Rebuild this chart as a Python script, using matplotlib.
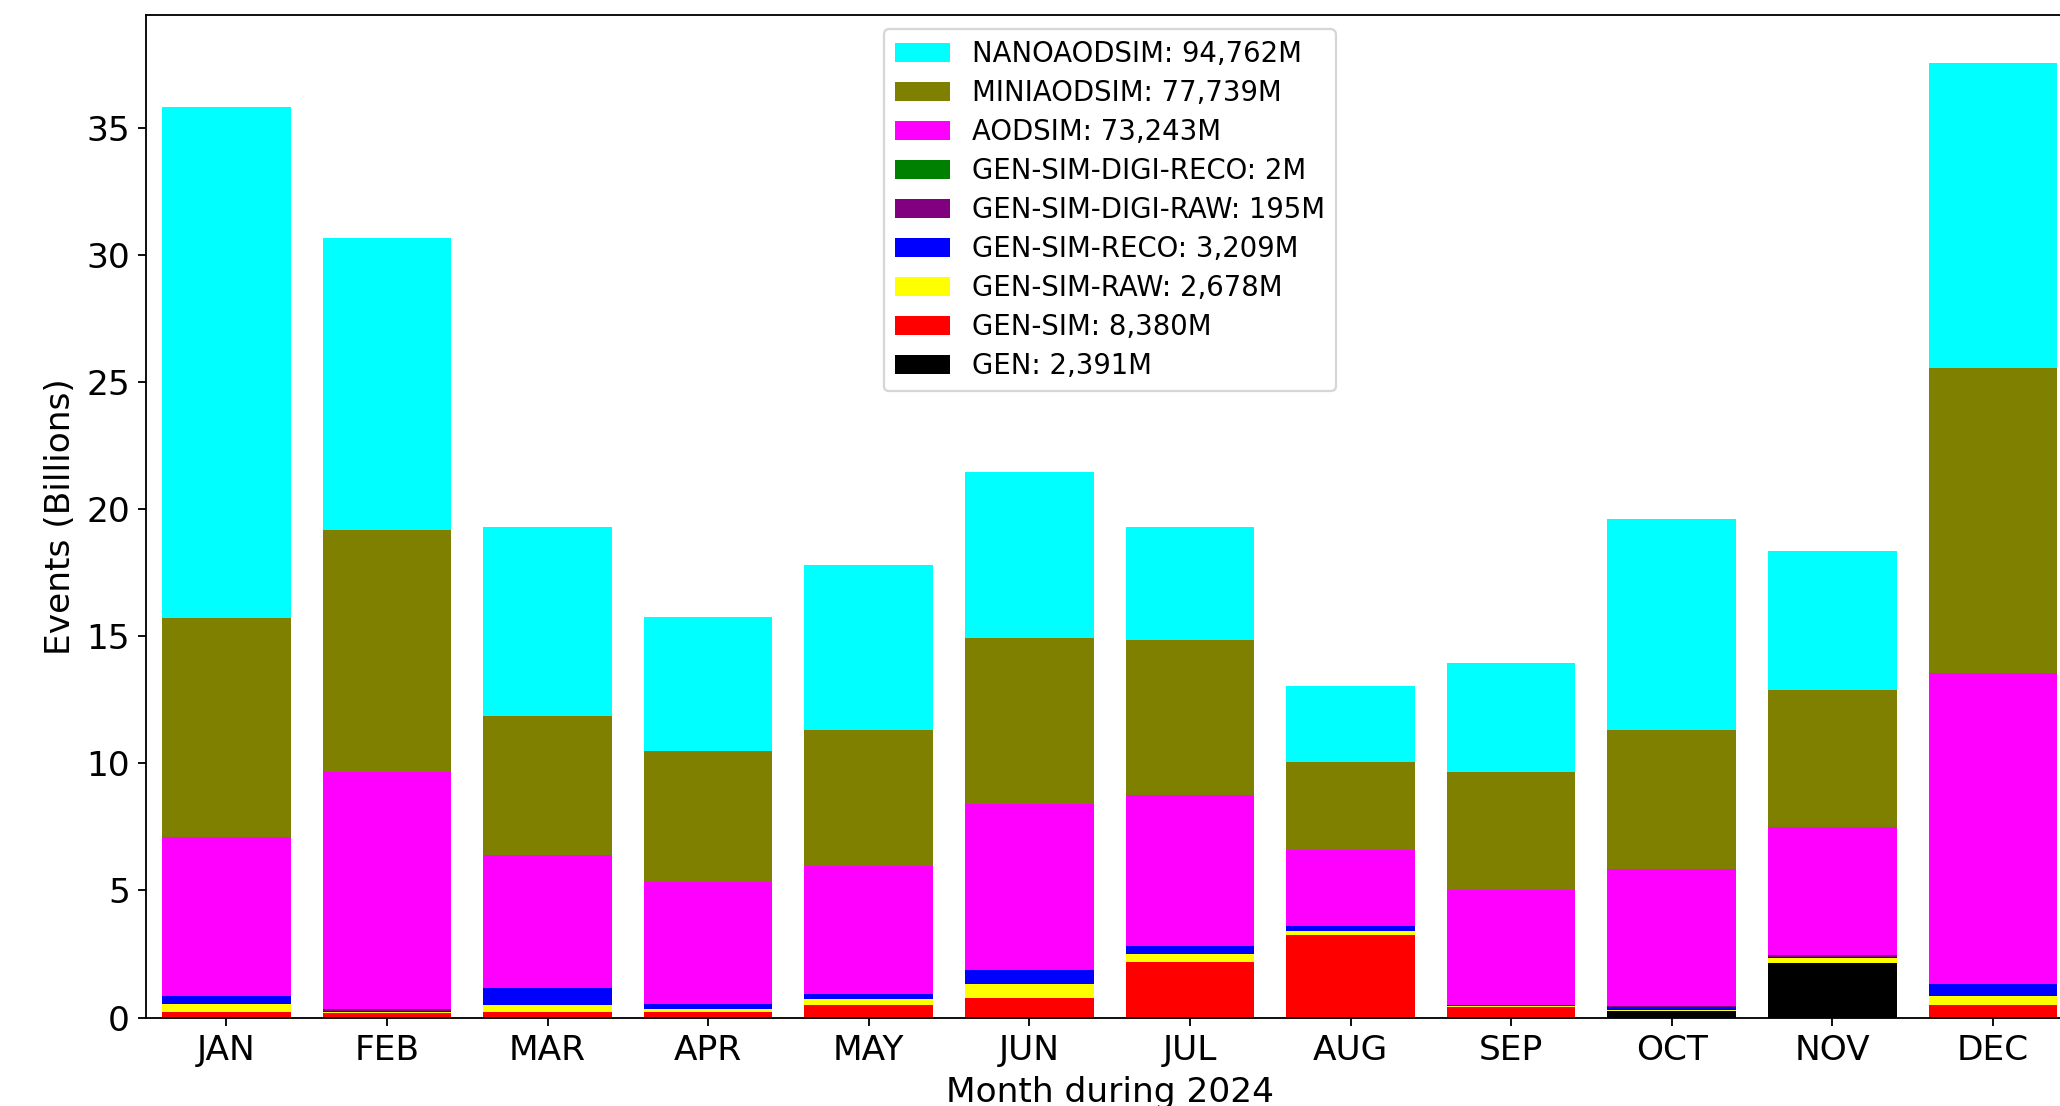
import matplotlib
matplotlib.use("Agg")
import matplotlib.pyplot as plt
import numpy as np

# 每月各数据层级的事件数 (单位: 百万)
months = ["JAN", "FEB", "MAR", "APR", "MAY", "JUN",
          "JUL", "AUG", "SEP", "OCT", "NOV", "DEC"]

gen = [0, 0, 0, 0, 0, 0, 0, 0, 0, 250, 2141, 0]
gen_sim = [200, 170, 200, 200, 500, 780, 2200, 3230, 400, 20, 0, 480]
gen_sim_raw = [350, 40, 280, 120, 240, 528, 310, 180, 50, 10, 190, 380]
gen_sim_reco = [310, 40, 700, 200, 190, 570, 320, 190, 60, 130, 40, 459]
gen_sim_digi_raw = [0, 80, 0, 0, 0, 0, 0, 0, 0, 30, 85, 0]
gen_sim_digi_reco = [0, 0, 0, 0, 0, 0, 0, 0, 0, 2, 0, 0]
aodsim = [6240, 9310, 5220, 4810, 5020, 6540, 5910, 3000, 4510, 5400, 5050, 12233]
miniaodsim = [8615, 9544, 5480, 5170, 5370, 6510, 6100, 3460, 4650, 5480, 5370, 11990]
nanoaodsim = [20110, 11480, 7400, 5270, 6470, 6520, 4450, 3000, 4290, 8280, 5490, 12002]

# 从下往上堆叠的顺序
tiers = [
    ("GEN", gen, "black"),
    ("GEN-SIM", gen_sim, "red"),
    ("GEN-SIM-RAW", gen_sim_raw, "yellow"),
    ("GEN-SIM-RECO", gen_sim_reco, "blue"),
    ("GEN-SIM-DIGI-RAW", gen_sim_digi_raw, "purple"),
    ("GEN-SIM-DIGI-RECO", gen_sim_digi_reco, "green"),
    ("AODSIM", aodsim, "magenta"),
    ("MINIAODSIM", miniaodsim, "olive"),
    ("NANOAODSIM", nanoaodsim, "cyan"),
]

dpi = 165
fig = plt.figure(figsize=(2060 / dpi, 1106 / dpi), dpi=dpi)
ax = fig.add_axes([0.0709, 0.0800, 0.9355, 0.906])

x = np.arange(len(months))
bottom = np.zeros(len(months))
handles = []
for name, values, color in tiers:
    vals = np.array(values) / 1000.0  # 换算成十亿
    total = sum(values)
    bars = ax.bar(x, vals, width=0.8, bottom=bottom, color=color,
                  label=f"{name}: {total:,}M")
    handles.append(bars)
    bottom += vals

ax.set_xlim(-0.5, 11.5)
ax.set_xticks(x)
ax.set_xticklabels(months)
ax.tick_params(labelsize=15)
ax.set_xlabel("Month during 2024", fontsize=15)
ax.set_ylabel("Events (Billions)", fontsize=15)

# 图例: 顶层在上
ax.legend(handles=handles[::-1], loc="upper center", fontsize=12,
          labelspacing=0.4, borderpad=0.4)

fig.savefig("out.png", dpi=dpi)
